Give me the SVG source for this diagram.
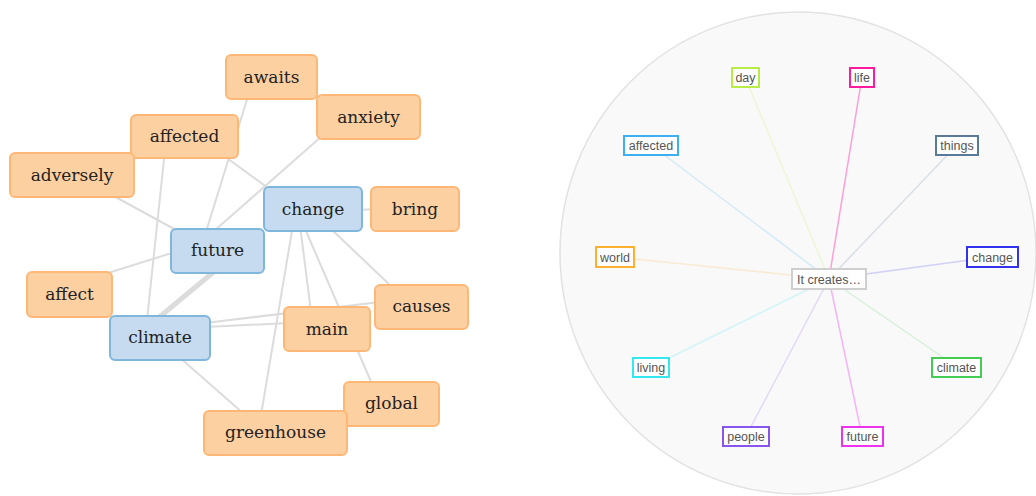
<svg xmlns="http://www.w3.org/2000/svg" width="1036" height="496" viewBox="0 0 1036 496">
  <style>
    .edge { stroke: #dcdcdc; stroke-width: 2; fill: none; }
    .edge.heavy { stroke-width: 5; }
    .word rect { fill: #fdd0a2; stroke: #fdb877; stroke-width: 2; }
    .key rect { fill: #c6dbef; stroke: #7fb6dc; stroke-width: 2; }
    .word text, .key text { font-family: "DejaVu Serif", "Liberation Serif", serif; font-size: 17px; fill: #222; text-anchor: middle; }
    .spoke { stroke-width: 1.5; fill: none; opacity: 0.2; }
    .term rect { fill: #ffffff; stroke-width: 2; }
    .term text { font-family: "Liberation Sans", Arial, sans-serif; font-size: 12.5px; fill: #555; text-anchor: middle; }
  </style>
  <rect width="1036" height="496" fill="#ffffff"/>

  <!-- word co-occurrence network -->
  <g id="connectors">
    <line class="edge" x1="250" y1="90" x2="205" y2="235"/>
    <line class="edge" x1="322" y1="136" x2="214" y2="231"/>
    <line class="edge" x1="220" y1="153" x2="275" y2="193"/>
    <line class="edge" x1="165" y1="150" x2="147" y2="320"/>
    <line class="edge" x1="110" y1="194" x2="176" y2="230"/>
    <line class="edge" x1="360" y1="210" x2="373" y2="209"/>
    <line class="edge" x1="108" y1="273" x2="175" y2="252"/>
    <line class="edge heavy" x1="216" y1="270" x2="157" y2="319"/>
    <line class="edge" x1="293" y1="225" x2="261" y2="415"/>
    <line class="edge" x1="300" y1="225" x2="311" y2="312"/>
    <line class="edge" x1="306" y1="231" x2="372" y2="384"/>
    <line class="edge" x1="330" y1="228" x2="392" y2="287"/>
    <line class="edge" x1="205" y1="323" x2="380" y2="302"/>
    <line class="edge" x1="205" y1="327" x2="290" y2="323"/>
    <line class="edge" x1="178" y1="356" x2="244" y2="414"/>
  </g>

  <g id="n-awaits" class="word"><rect x="226" y="55" width="91" height="44" rx="5"/><text x="271.5" y="83">awaits</text></g>
  <g id="n-anxiety" class="word"><rect x="317" y="95" width="103" height="44" rx="5"/><text x="368.5" y="123">anxiety</text></g>
  <g id="n-affected" class="word"><rect x="131" y="115" width="107" height="43" rx="5"/><text x="184.5" y="142">affected</text></g>
  <g id="n-adversely" class="word"><rect x="10" y="153" width="124" height="44" rx="5"/><text x="72" y="181">adversely</text></g>
  <g id="n-change" class="key"><rect x="264" y="187" width="98" height="44" rx="5"/><text x="313" y="215">change</text></g>
  <g id="n-bring" class="word"><rect x="371" y="187" width="88" height="44" rx="5"/><text x="415" y="215">bring</text></g>
  <g id="n-future" class="key"><rect x="171" y="229" width="93" height="44" rx="5"/><text x="217.5" y="256">future</text></g>
  <g id="n-affect" class="word"><rect x="27" y="272" width="85" height="45" rx="5"/><text x="69.5" y="300">affect</text></g>
  <g id="n-causes" class="word"><rect x="375" y="285" width="93" height="44" rx="5"/><text x="421.5" y="312">causes</text></g>
  <g id="n-main" class="word"><rect x="284" y="307" width="86" height="44" rx="5"/><text x="327" y="335">main</text></g>
  <g id="n-climate" class="key"><rect x="110" y="316" width="100" height="44" rx="5"/><text x="160" y="343">climate</text></g>
  <g id="n-global" class="word"><rect x="344" y="382" width="95" height="44" rx="5"/><text x="391.5" y="409">global</text></g>
  <g id="n-greenhouse" class="word"><rect x="204" y="411" width="143" height="44" rx="5"/><text x="275.5" y="438">greenhouse</text></g>

  <!-- radial context view -->
  <ellipse cx="798" cy="253" rx="238" ry="241" fill="#f9f9f9" stroke="#e2e2e2" stroke-width="1.5"/>

  <g id="spokes">
    <line class="spoke" x1="829" y1="279" x2="745" y2="77" stroke="#b8ee44"/>
    <line class="spoke" x1="829" y1="279" x2="862" y2="77" stroke="#ff1aa0" style="opacity:0.4"/>
    <line class="spoke" x1="829" y1="279" x2="651" y2="145" stroke="#3cb0f0"/>
    <line class="spoke" x1="829" y1="279" x2="957" y2="145" stroke="#5a7a9a"/>
    <line class="spoke" x1="829" y1="279" x2="615" y2="257" stroke="#ffb030"/>
    <line class="spoke" x1="829" y1="279" x2="992" y2="257" stroke="#3333ee"/>
    <line class="spoke" x1="829" y1="279" x2="651" y2="367" stroke="#33e8ee"/>
    <line class="spoke" x1="829" y1="279" x2="957" y2="367" stroke="#44cc55"/>
    <line class="spoke" x1="829" y1="279" x2="746" y2="436" stroke="#8855ee"/>
    <line class="spoke" x1="829" y1="279" x2="862" y2="436" stroke="#ee33ee" style="opacity:0.35"/>
  </g>

  <g id="t-day" class="term"><rect x="732" y="68" width="27" height="19" stroke="#b8ee44"/><text x="745.5" y="82">day</text></g>
  <g id="t-life" class="term"><rect x="850" y="68" width="24" height="19" stroke="#ff1aa0"/><text x="862" y="82">life</text></g>
  <g id="t-affected" class="term"><rect x="624" y="136" width="54" height="19" stroke="#3cb0f0"/><text x="651" y="150">affected</text></g>
  <g id="t-things" class="term"><rect x="936" y="136" width="42" height="19" stroke="#5a7a9a"/><text x="957" y="150">things</text></g>
  <g id="t-world" class="term"><rect x="596" y="247" width="38" height="20" stroke="#ffb030"/><text x="615" y="262">world</text></g>
  <g id="t-change" class="term"><rect x="967" y="247" width="51" height="20" stroke="#3333ee"/><text x="992.5" y="262">change</text></g>
  <g id="t-hub" class="term"><rect x="792" y="269" width="74" height="20" stroke="#cfcfcf"/><text x="829" y="284">It creates…</text></g>
  <g id="t-living" class="term"><rect x="633" y="358" width="36" height="19" stroke="#33e8ee"/><text x="651" y="372">living</text></g>
  <g id="t-climate" class="term"><rect x="932" y="358" width="49" height="19" stroke="#44cc55"/><text x="956.5" y="372">climate</text></g>
  <g id="t-people" class="term"><rect x="723" y="427" width="46" height="19" stroke="#8855ee"/><text x="746" y="441">people</text></g>
  <g id="t-future" class="term"><rect x="842" y="427" width="41" height="19" stroke="#ee33ee"/><text x="862.5" y="441">future</text></g>
</svg>
